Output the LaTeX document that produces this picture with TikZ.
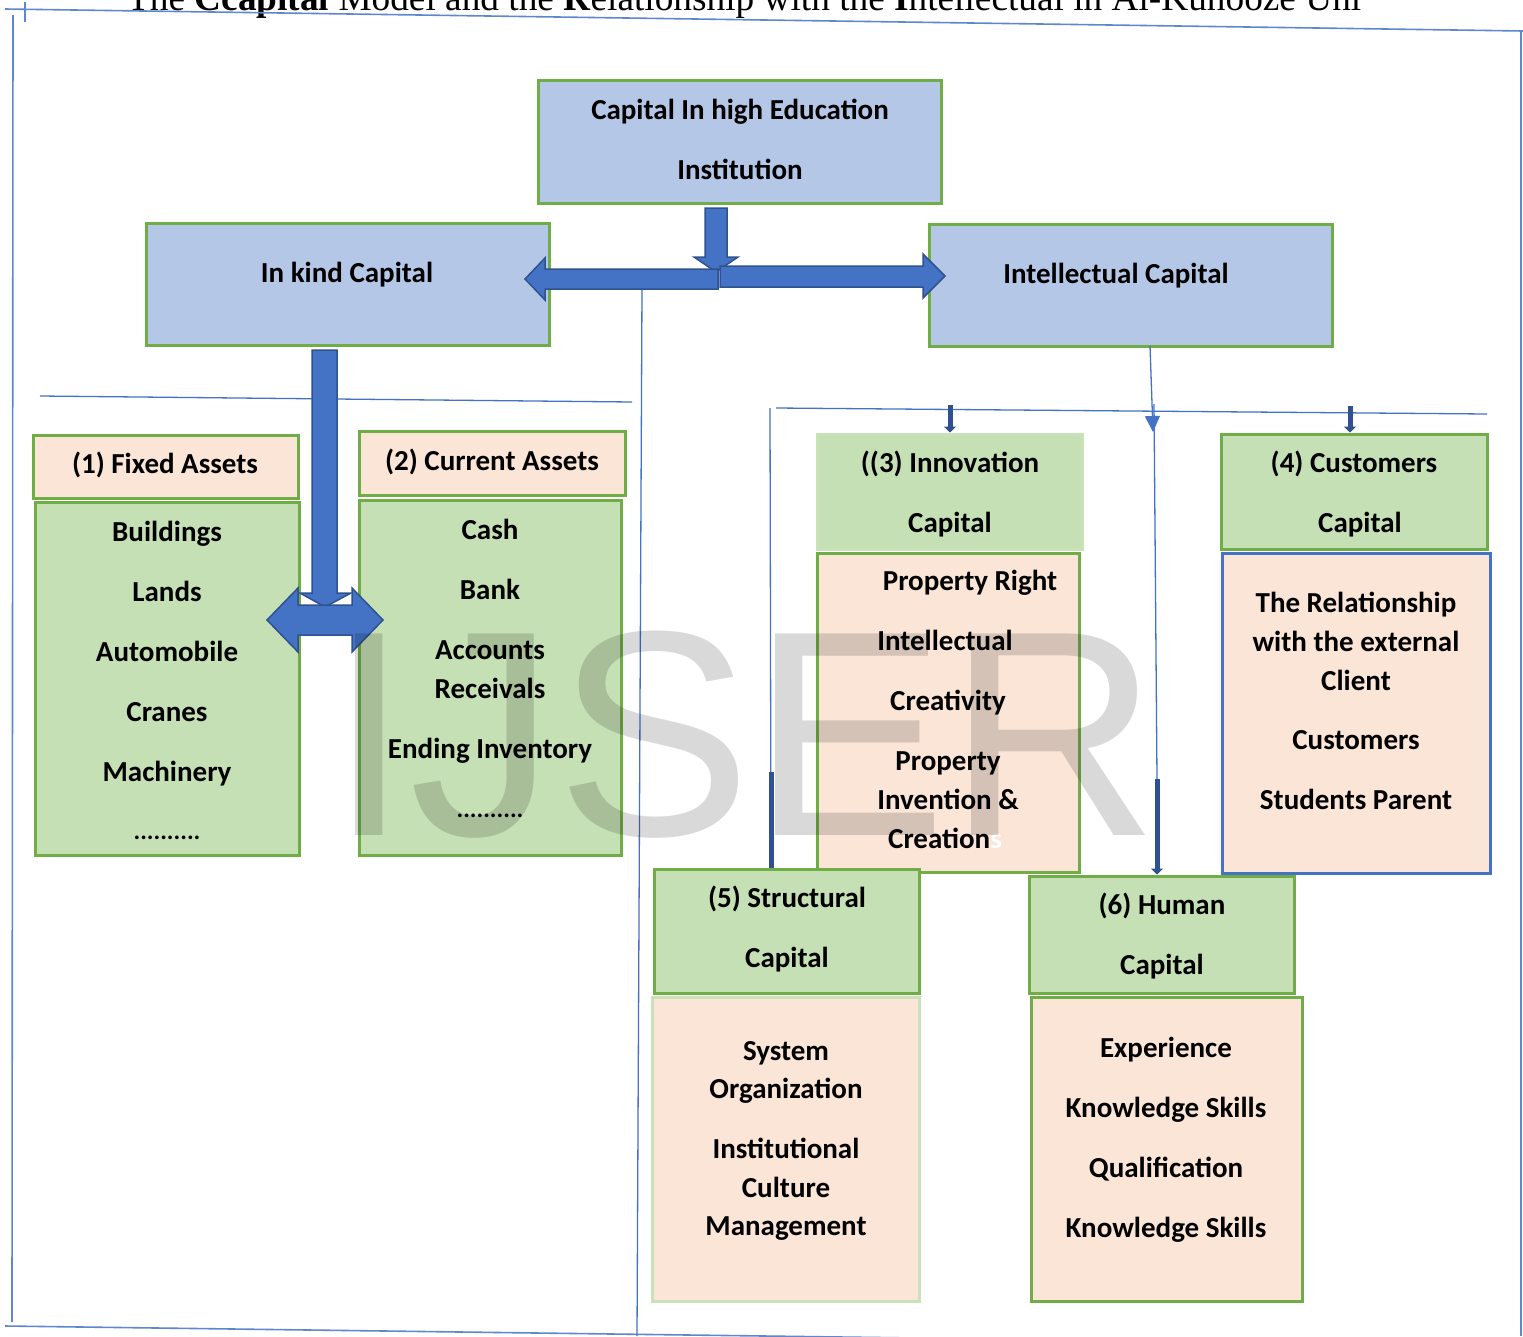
\documentclass[tikz,border=0pt]{standalone}
\usepackage{fontspec}
\usetikzlibrary{arrows.meta,fit}
\newfontfamily\calfont{Carlito}
\newfontfamily\wmfont{Liberation Sans}
\newfontfamily\ttlfont{Liberation Serif}
\definecolor{bluefill}{HTML}{B4C7E7}
\definecolor{boxgreen}{HTML}{70AD47}
\definecolor{lightgreen}{HTML}{C9E2BA}
\definecolor{peach}{HTML}{FBE5D6}
\definecolor{greenfill}{HTML}{C5E0B4}
\definecolor{linkblue}{HTML}{4472C4}
\definecolor{arrowblue}{HTML}{4472C4}
\definecolor{arrowedge}{HTML}{2F528F}
\newcommand\mybox[6]{\node[#6, fit={(#2,#3) (#4,#5)}] (#1) {};}
\newcommand\textlines[2]{\foreach \xx/\yy/\tx [count=\kk] in {#2}{\node[lbl] (#1-\kk) at (\xx,\yy) {\tx};}}
\newcommand\dotrow{..........}
\begin{document}
\begin{tikzpicture}[x=1pt,y=-1pt,
  box/.style={draw=boxgreen, line width=3pt, inner sep=0pt},
  bluebox/.style={box, fill=bluefill},
  peachbox/.style={box, fill=peach},
  greenbox/.style={box, fill=greenfill},
  lbl/.style={font=\calfont\bfseries\fontsize{29}{34}\selectfont, anchor=base, inner sep=0pt},
  dotlbl/.style={font=\calfont\bfseries\fontsize{25}{30}\selectfont, anchor=base, inner sep=0pt},
  thinline/.style={draw=linkblue, line width=1.3pt},
  framel/.style={draw=linkblue!85, line width=1.6pt},
  bigarrow/.style={fill=arrowblue, draw=arrowedge, line width=1.5pt, line join=miter},
  stub/.style={draw=arrowedge, line width=5pt, -{Triangle[length=6pt,width=12pt]}},
]
\useasboundingbox (0,0) rectangle (1523,1336);
\fill[white] (0,0) rectangle (1523,1336);

% title (cut off at top)
\node[anchor=base west, inner sep=0pt, font=\ttlfont\fontsize{37.3}{40}\selectfont] (title) at (127,10)
  {The \textbf{Ccapital} Model and the \textbf{R}elationship with the \textbf{I}ntellectual in Al-Kunooze Uni};

% frame lines
\draw[framel] (5,9) -- (1523,31);
\draw[framel] (25,2) -- (25,22);
\draw[framel] (13,15) -- (12,1322);
\draw[framel] (1521,30) -- (1521,1336);
\draw[framel] (5,1326) -- (1523,1346);

% guide lines
\draw[thinline] (642,289) -- (637,1336);
\draw[thinline] (40,396) -- (632,402);
\draw[thinline] (776,408) -- (1487,414);
\draw[thinline] (770,408) -- (771,868);

% boxes
\mybox{top}{538}{80}{941}{203}{bluebox}
\mybox{inkind}{146}{223}{549}{345}{bluebox}
\mybox{intel}{929}{224}{1332}{346}{bluebox}
\mybox{fixh}{33}{435}{298}{498}{peachbox}
\mybox{fixl}{35}{502}{299}{855}{greenbox}
\mybox{curh}{359}{431}{625}{495}{peachbox}
\mybox{curl}{359}{500}{621}{855}{greenbox}
\mybox{innh}{817}{434}{1082}{549}{greenbox, draw=lightgreen}
\mybox{innl}{817}{553}{1079}{872}{peachbox}
\mybox{cush}{1221}{434}{1487}{549}{greenbox}
\mybox{cusl}{1222}{553}{1490}{873}{peachbox, draw=linkblue}
\mybox{strh}{654}{869}{919}{993}{greenbox}
\mybox{strl}{652}{997}{919}{1301}{peachbox, draw=lightgreen}
\mybox{humh}{1029}{876}{1294}{993}{greenbox}
\mybox{huml}{1031}{997}{1302}{1301}{peachbox}

% connectors
\coordinate (ia) at (1150,346);
\coordinate (ib) at (1153,432);
\draw[thinline, -{Triangle[length=16pt,width=15pt]}] (ia) -- (ib);
\coordinate (hc) at (1154,404);
\coordinate (hd) at (1157,779);
\draw[thinline] (hc) -- (hd);
\draw[stub] (hd) -- (humh.north -| hd);
\coordinate (sa) at (771,772);
\draw[draw=arrowedge, line width=5pt] (sa) -- (strh.north -| sa);
\coordinate (na) at (950,405);
\draw[stub] (na) -- (innh.north -| na);
\coordinate (ca) at (1350,406);
\draw[stub] (ca) -- (cush.north -| ca);

% big block arrows
\draw[bigarrow] (705,208) -- (727,208) -- (727,257) -- (738,257) -- (716,272) -- (694,257) -- (705,257) -- cycle;
\draw[bigarrow] (718,269) -- (545,269) -- (545,258) -- (525,279) -- (545,300) -- (545,289) -- (718,289) -- cycle;
\draw[bigarrow] (720,266) -- (923,266) -- (923,254) -- (945,276) -- (923,298) -- (923,287) -- (720,287) -- cycle;
\draw[bigarrow] (312,350) -- (337,350) -- (337,593) -- (351,593) -- (325,607) -- (300,593) -- (312,593) -- cycle;
\draw[bigarrow] (298,605) -- (298,588) -- (267,620) -- (298,652) -- (298,635) -- (352,635) -- (352,652) -- (383,620) -- (352,588) -- (352,605) -- cycle;

% texts
\textlines{ttop}{740/119/Capital In high Education, 740/179/Institution}
\textlines{tink}{347/282/In kind Capital}
\textlines{tint}{1116/283/Intellectual Capital}
\textlines{tfixh}{165/473/(1) Fixed Assets}
\textlines{tfixl}{167/541/Buildings, 167/601/Lands, 167/661/Automobile, 167/721/Cranes, 167/781/Machinery}
\node[dotlbl] (tfixl-dots) at (167,839) {\dotrow};
\textlines{tcurh}{492/470/(2) Current Assets}
\textlines{tcurl}{490/539/Cash, 490/599/Bank, 490/659/Accounts, 490/698/Receivals, 490/758/Ending Inventory}
\node[dotlbl] (tcurl-dots) at (490,817) {\dotrow};
\textlines{tinnh}{950/472/((3) Innovation, 950/532/Capital}
\textlines{tinnl}{970/590/Property Right, 945/650/Intellectual, 948/710/Creativity, 948/770/Property, 948/809/Invention \&, 945/848/Creation\textcolor{white}{s}}
\textlines{tcush}{1354/472/(4) Customers, 1360/532/Capital}
\textlines{tcusl}{1356/612/The Relationship, 1356/651/with the external, 1356/690/Client, 1356/749/Customers, 1356/809/Students Parent}
\textlines{tstrh}{787/907/(5) Structural, 787/967/Capital}
\textlines{tstrl}{786/1060/System, 786/1098/Organization, 786/1158/Institutional, 786/1197/Culture, 786/1235/Management}
\textlines{thumh}{1162/914/(6) Human, 1162/974/Capital}
\textlines{thuml}{1166/1057/Experience, 1166/1117/Knowledge Skills, 1166/1177/Qualification, 1166/1237/Knowledge Skills}

% watermark
\node[anchor=base west, inner sep=0pt, font=\wmfont\fontsize{293}{293}\selectfont, text=black, text opacity=0.15] (wm) at (328,835) {IJSER};
\end{tikzpicture}
\end{document}
